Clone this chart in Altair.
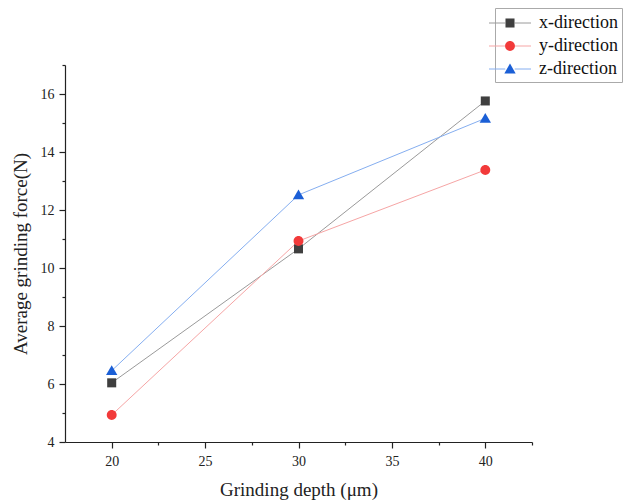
import altair as alt
import pandas as pd

depth = [20, 30, 40]
x_dir = [6.04, 10.66, 15.76]
y_dir = [4.93, 10.93, 13.38]
z_dir = [6.46, 12.52, 15.16]
series_names = ["x-direction", "y-direction", "z-direction"]
marker_colors = ["#3f3f3f", "#f23a3a", "#1b5fd6"]
line_colors = ["#9a9a9a", "#f6a5a5", "#85aef0"]
x_ticks = [20, 25, 30, 35, 40]
x_minor = [22.5, 27.5, 32.5, 37.5, 42.5]
y_ticks = [4, 6, 8, 10, 12, 14, 16]
y_minor = [5, 7, 9, 11, 13, 15, 17]

marker_paths = [
    "M-0.43,-0.43H0.43V0.43H-0.43Z",
    "M0.47,0A0.47,0.47 0 1,1 -0.47,0A0.47,0.47 0 1,1 0.47,0Z",
    "M0,-0.52L0.54,0.42L-0.54,0.42Z",
]
line_symbol = "M-2,0H-0.45M0.45,0H2"

rows = []
for name, vals in zip(series_names, [x_dir, y_dir, z_dir]):
    for d, v in zip(depth, vals):
        rows.append({"depth": d, "force": v, "series": name, "marker": name})
df = pd.DataFrame(rows)

FONT = "Liberation Serif"
x_scale = alt.Scale(domain=[17.5, 42.5], nice=False, zero=False)
y_scale = alt.Scale(domain=[4, 17], nice=False, zero=False)

legend_common = dict(
    orient="none",
    legendX=430,
    legendY=-57,
    title=None,
    symbolSize=441,
    symbolStrokeWidth=1,
    labelFont=FONT,
    labelFontSize=18,
    labelColor="#111",
    labelOffset=18,
    rowPadding=3,
    padding=4,
)

lines = alt.Chart(df).mark_line(strokeWidth=1).encode(
    x=alt.X("depth:Q", scale=x_scale, axis=alt.Axis(
        values=x_ticks, orient="bottom", grid=False, tickSize=6, tickColor="#222",
        domainColor="#222", domainWidth=1.2, tickWidth=1.2,
        labelFont=FONT, labelFontSize=14, labelColor="#222", labelPadding=6,
        title="Grinding depth (μm)", titleFont=FONT, titleFontSize=19,
        titleFontWeight="normal", titleColor="#222", titlePadding=12)),
    y=alt.Y("force:Q", scale=y_scale, axis=alt.Axis(
        values=y_ticks, orient="left", grid=False, tickSize=6, tickColor="#222",
        domainColor="#222", domainWidth=1.2, tickWidth=1.2,
        labelFont=FONT, labelFontSize=14, labelColor="#222", labelPadding=5,
        title="Average grinding force(N)", titleFont=FONT, titleFontSize=19,
        titleFontWeight="normal", titleColor="#222", titlePadding=10)),
    stroke=alt.Stroke("series:N", scale=alt.Scale(range=line_colors),
                      legend=alt.Legend(symbolType=line_symbol, strokeColor="#aaaaaa",
                                        fillColor="white", **legend_common)),
    detail="series:N",
)

points = alt.Chart(df).mark_point(filled=True, size=441, opacity=1, strokeWidth=0).encode(
    x=alt.X("depth:Q", scale=x_scale, axis=alt.Axis(
        values=x_minor, orient="bottom", grid=False, labels=False, domain=False,
        tickSize=3, tickColor="#222", tickWidth=1.2, title=None)),
    y=alt.Y("force:Q", scale=y_scale, axis=alt.Axis(
        values=y_minor, orient="left", grid=False, labels=False, domain=False,
        tickSize=3, tickColor="#222", tickWidth=1.2, title=None)),
    fill=alt.Fill("marker:N", scale=alt.Scale(domain=series_names, range=marker_colors),
                  legend=alt.Legend(labelOpacity=0, **legend_common)),
    shape=alt.Shape("marker:N", scale=alt.Scale(domain=series_names, range=marker_paths),
                    legend=alt.Legend(labelOpacity=0, **legend_common)),
)

chart = alt.layer(lines, points).resolve_axis(
    x="independent", y="independent"
).properties(
    width=467,
    height=377,
    background="white",
    autosize=alt.AutoSizeParams(type="none"),
    padding={"left": 65, "top": 65, "right": 101, "bottom": 61},
).configure_view(stroke=None)

chart.save("out.html", embed_options={"renderer": "svg", "actions": False})
